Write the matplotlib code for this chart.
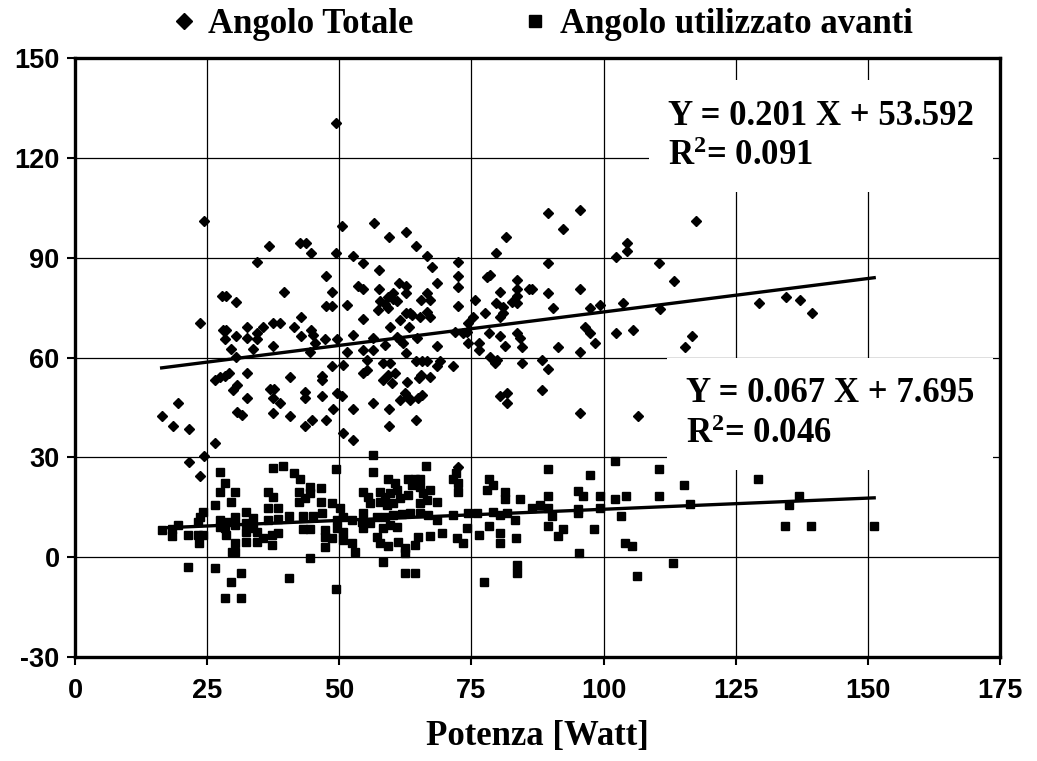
import matplotlib
matplotlib.use("Agg")
import matplotlib.pyplot as plt
import numpy as np

plt.rcParams['font.family'] = ['Liberation Serif', 'DejaVu Serif']
plt.rcParams['mathtext.fontset'] = 'custom'
plt.rcParams['mathtext.rm'] = 'Liberation Serif:bold'
plt.rcParams['mathtext.bf'] = 'Liberation Serif:bold'
plt.rcParams['mathtext.default'] = 'rm'
plt.rcParams['axes.unicode_minus'] = False

# Angolo Totale (diamonds)
tot = [(49.4,130.4),(24.4,101),(36.7,93.4),(42.6,94.4),(43.8,94.4),(44.6,91.3),(49.4,91.3),
    (34.4,88.6),(47.5,84.4),(39.5,79.6),(48.6,79.6),(27.8,78.4),(28.6,78.4),(30.5,76.8),
    (50.5,99.5),(47.5,75.4),(48.6,75.4),(23.6,70.3),(42.8,72.1),(28.0,68.2),(28.6,68.2),
    (32.5,69.1),(35.5,69.1),(37.5,70.3),(38.8,70.3),(41.4,69.1),(44.6,68.2),(34.4,67.3),
    (30.5,66.4),(32.5,65.8),(28.4,65.5),(34.4,65.5),(42.8,66.4),(45.0,66.7),(47.3,65.5),
    (49.6,65.5),(37.5,63.4),(29.5,62.5),(33.7,62.5),(45.4,64.3),(44.5,61.6),(30.5,60.1),
    (48.6,57.4),(26.5,53.2),(27.4,54.1),(28.4,54.4),(29.1,55.3),(32.5,55.3),(40.7,54.1),
    (46.7,54.4),(46.7,53.2),(30.6,51.7),(29.9,50.2),(36.9,50.5),(37.6,50.5),(43.5,49.6),
    (43.5,47.8),(46.7,48.4),(37.5,47.8),(38.8,46.3),(32.5,47.8),(19.5,46.3),(16.4,42.4),
    (18.5,39.4),(21.6,38.5),(30.6,43.6),(31.6,42.7),(37.5,43.3),(40.7,42.4),(43.5,39.4),
    (44.8,41.2),(47.5,41.2),(48.8,44.5),(26.5,34.3),(24.4,30.3),(21.6,28.5),(23.6,24.3),
    (56.6,100.4),(59.4,96.2),(62.6,97.6),(64.5,93.4),(66.6,90.4),(52.6,90.4),(54.5,88.3),
    (57.5,86.2),(67.5,87.1),(72.5,88.6),(72.5,84.4),(72.5,81.1),(81.5,96.2),(79.6,91.3),
    (77.9,84.1),(78.5,84.7),(83.6,83.2),(80.4,79.6),(83.6,80.5),(83.6,78.4),(85.9,80.5),
    (53.5,81.4),(54.5,80.5),(57.5,80.5),(61.3,82.3),(62.6,81.4),(62.6,79.3),(66.6,79.3),
    (68.5,82.3),(59.2,78.1),(60.2,79.3),(57.7,77.0),(58.6,76.0),(59.2,75.0),(60.2,77.5),
    (60.9,77.0),(51.5,75.7),(57.3,74.2),(65.5,77.2),(67.2,77.2),(72.5,75.4),(75.7,77.2),
    (79.6,76.3),(81.0,75.1),(83.6,76.3),(82.7,76.6),(81.0,73.3),(80.4,72.1),(77.6,73.3),
    (75.3,72.1),(54.5,71.5),(62.6,73.3),(63.4,73.3),(61.5,71.2),(63.8,72.7),(66.6,73.6),
    (67.2,72.1),(65.3,72.1),(59.6,69.1),(63.2,69.1),(74.3,70.3),(78.3,67.3),(80.4,66.4),
    (83.6,67.3),(84.2,65.8),(52.6,66.7),(56.4,65.8),(60.9,66.1),(61.5,65.2),(62.1,64.3),
    (64.7,65.8),(71.9,67.6),(73.4,67.3),(74.2,67.6),(68.5,63.4),(74.3,64.3),(76.4,64.3),
    (76.4,62.2),(81.3,63.4),(84.6,63.1),(54.5,62.2),(56.4,62.2),(55.2,59.2),(51.5,61.6),
    (58.6,63.7),(62.6,61.3),(78.5,60.1),(79.8,59.2),(79.5,58.3),(84.6,58.3),(50.7,57.7),
    (54.5,55.3),(55.2,56.2),(58.3,58.3),(59.6,58.3),(64.5,58.9),(65.6,58.9),(66.6,58.9),
    (69.0,58.9),(68.5,57.4),(71.5,57.4),(58.3,53.2),(59.2,54.7),(60.5,55.3),(60.0,52.3),
    (62.8,52.6),(65.1,53.8),(65.5,54.7),(67.2,54.1),(49.6,49.3),(50.5,48.4),(56.4,46.3),
    (52.6,44.5),(59.4,44.5),(62.4,49.3),(63.0,48.1),(61.5,47.2),(63.4,47.2),(64.9,47.8),
    (65.6,48.7),(80.4,48.4),(81.7,49.3),(81.7,46.3),(64.5,41.2),(59.4,39.4),(50.7,37.3),
    (52.6,35.2),(72.5,27.0),(89.5,103.4),(95.5,104.3),(92.3,98.6),(117.5,101),(104.4,94.4),
    (104.4,92.0),(102.3,90.1),(89.5,88.3),(110.5,88.3),(113.3,82.9),(86.5,80.5),(89.5,79.3),
    (95.5,80.5),(90.4,74.8),(97.4,74.8),(99.3,75.7),(103.7,76.3),(110.7,74.5),(96.5,69.1),
    (97.4,67.3),(98.4,64.3),(102.3,67.3),(105.6,68.2),(116.7,66.4),(115.4,63.1),(91.4,63.1),
    (95.5,61.6),(88.3,59.2),(89.5,56.5),(88.3,50.2),(95.5,43.3),(106.5,42.4),(129.4,76.3),
    (134.5,78.1),(137.2,77.2),(139.4,73.3)]

# Angolo utilizzato avanti (squares)
av = [(27.4,25.5),(28.4,22.2),(27.4,19.5),(30.3,19.5),(29.5,16.5),(26.5,15.6),(24.2,13.5),
    (23.6,12.0),(23.3,10.5),(19.5,9.6),(16.5,8.1),(18.4,8.4),(18.4,6.3),(21.4,6.6),(23.3,6.6),
    (24.2,6.6),(23.5,4.2),(27.4,11.1),(28.4,8.7),(27.4,9.0),(29.0,10.5),(30.3,12.0),(30.3,9.6),
    (28.6,6.6),(30.3,4.2),(29.7,1.5),(30.3,1.5),(32.4,13.5),(32.4,10.2),(32.4,7.5),(32.4,4.5),
    (33.7,11.7),(33.7,8.7),(34.4,7.5),(34.4,4.5),(35.6,5.7),(36.5,19.5),(37.5,18.0),(36.5,14.7),
    (38.4,14.7),(36.5,11.1),(38.4,11.4),(37.5,26.7),(39.4,27.3),(37.3,6.6),(37.3,3.6),(38.4,7.2),
    (40.5,12.3),(41.4,25.2),(42.6,23.4),(42.4,19.5),(42.4,16.5),(43.5,17.7),(44.5,21.0),
    (44.5,19.2),(43.1,12.3),(45.0,12.3),(46.7,13.2),(43.1,8.4),(44.5,8.4),(46.5,20.7),
    (46.5,16.5),(48.6,16.2),(47.3,8.1),(47.3,6.0),(48.6,5.7),(47.3,3.0),(49.4,26.4),(49.6,11.1),
    (44.5,-0.3),(40.5,-6.3),(49.4,-9.6),(21.4,-3.0),(26.5,-3.3),(31.4,-4.8),(29.5,-7.5),
    (28.4,-12.3),(31.4,-12.3),(56.4,30.6),(56.4,25.5),(66.4,27.3),(72.1,25.2),(71.5,23.4),
    (72.5,22.2),(72.5,19.5),(78.3,23.4),(77.9,20.1),(79.1,21.6),(81.3,19.5),(81.3,17.4),
    (59.2,23.4),(60.5,22.2),(63.0,23.4),(64.3,23.4),(65.3,23.4),(63.8,21.6),(54.5,19.5),
    (55.4,18.0),(55.8,16.2),(57.7,19.5),(58.6,18.0),(59.6,19.2),(60.9,20.1),(57.7,16.5),
    (59.0,15.6),(60.2,16.2),(61.5,17.7),(63.0,18.6),(65.3,21.0),(65.8,19.2),(67.2,20.1),
    (66.6,17.1),(68.5,16.5),(65.3,16.2),(50.1,14.7),(50.7,12.0),(49.6,8.7),(50.7,7.5),
    (52.4,11.1),(54.5,13.2),(54.3,10.5),(55.8,10.2),(54.5,8.7),(57.1,12.0),(58.6,12.0),
    (60.2,12.6),(61.9,12.9),(63.4,13.2),(65.3,13.2),(66.8,12.6),(68.5,11.1),(71.5,12.6),
    (74.3,13.2),(76.0,13.2),(79.1,13.5),(80.4,12.6),(81.7,13.2),(83.2,11.1),(50.7,5.1),
    (52.4,4.2),(53.0,1.5),(57.1,6.0),(57.7,4.2),(58.3,8.7),(59.6,9.6),(60.9,9.0),(59.2,3.3),
    (61.1,4.5),(62.4,2.7),(62.4,1.2),(64.3,3.6),(64.9,6.0),(67.2,6.3),(69.4,7.2),(72.3,5.7),
    (73.4,4.2),(74.2,8.7),(76.4,6.6),(78.3,9.3),(80.4,7.2),(80.4,4.2),(83.4,5.7),(83.6,-2.4),
    (83.6,-4.8),(77.4,-7.5),(58.3,-1.5),(62.4,-4.8),(64.3,-4.8),(102.2,28.8),(89.5,26.4),
    (97.4,24.6),(110.5,26.4),(115.2,21.6),(89.5,18.3),(95.2,19.8),(96.1,18.3),(99.3,18.3),
    (102.2,17.4),(104.2,18.3),(110.5,18.3),(84.2,17.4),(86.5,14.7),(88.0,15.6),(89.5,14.7),
    (95.2,14.4),(95.2,13.2),(99.3,14.7),(116.3,15.9),(90.2,12.3),(103.3,12.3),(89.5,9.3),
    (92.3,8.4),(91.4,6.3),(98.2,8.4),(104.0,4.2),(105.4,3.3),(95.3,1.2),(113.1,-1.8),
    (106.3,-5.7),(129.2,23.4),(137.0,18.3),(135.1,15.6),(134.3,9.3),(139.2,9.3),(151.2,9.3)]

fit_tot = (0.201, 53.592, 0.091)
fit_av = (0.067, 7.695, 0.046)

tot = np.array(tot)
av = np.array(av)

fig = plt.figure(figsize=(10.37, 7.61), dpi=100)
ax = fig.add_axes([0.0723, 0.1367, 0.892, 0.787])

ax.plot(tot[:, 0], tot[:, 1], 'D', color='black', ms=5, ls='none',
        label='Angolo Totale', zorder=3)
ax.plot(av[:, 0], av[:, 1], 's', color='black', ms=5.5, ls='none',
        label='Angolo utilizzato avanti', zorder=3)

xs = np.array([min(tot[:, 0].min(), av[:, 0].min()), max(tot[:, 0].max(), av[:, 0].max())])
ax.plot(xs, fit_tot[0] * xs + fit_tot[1], color='black', lw=2.4, zorder=4)
ax.plot(xs, fit_av[0] * xs + fit_av[1], color='black', lw=2.4, zorder=4)

ax.set_xlim(0, 175)
ax.set_ylim(-30, 150)
ax.set_xticks(np.arange(0, 176, 25))
ax.set_yticks(np.arange(-30, 151, 30))
ax.grid(True, color='black', lw=0.9, zorder=0)
ax.set_axisbelow(True)
for s in ax.spines.values():
    s.set_linewidth(2.4)
ax.tick_params(direction='out', length=6, width=1.5, pad=5)
ax.tick_params(axis='x', pad=9)
for lab in ax.get_xticklabels() + ax.get_yticklabels():
    lab.set_family('Liberation Sans')
    lab.set_fontweight('bold')
    lab.set_fontsize(19.5)

ax.set_xlabel('Potenza [Watt]', fontsize=25, fontweight='bold', labelpad=12)

box = dict(facecolor='white', edgecolor='none', boxstyle='square,pad=0.55')
ax.text(112.2, 126.5, 'Y = %.3f X + %.3f\nR$^2$= %.3f' % fit_tot, fontsize=25,
        fontweight='bold', va='center', ha='left', linespacing=1.3, bbox=box, zorder=2)
ax.text(115.6, 43, 'Y = %.3f X + %.3f\nR$^2$= %.3f' % fit_av, fontsize=25,
        fontweight='bold', va='center', ha='left', linespacing=1.3, bbox=box, zorder=2)

fig.legend(loc='upper center', bbox_to_anchor=(0.522, 1.03), ncol=2, frameon=False,
           prop={'family': 'Liberation Serif', 'weight': 'bold', 'size': 25},
           markerscale=1.6, handlelength=0.8, handletextpad=0.3, columnspacing=3.1)

fig.savefig('out.png', dpi=100)
